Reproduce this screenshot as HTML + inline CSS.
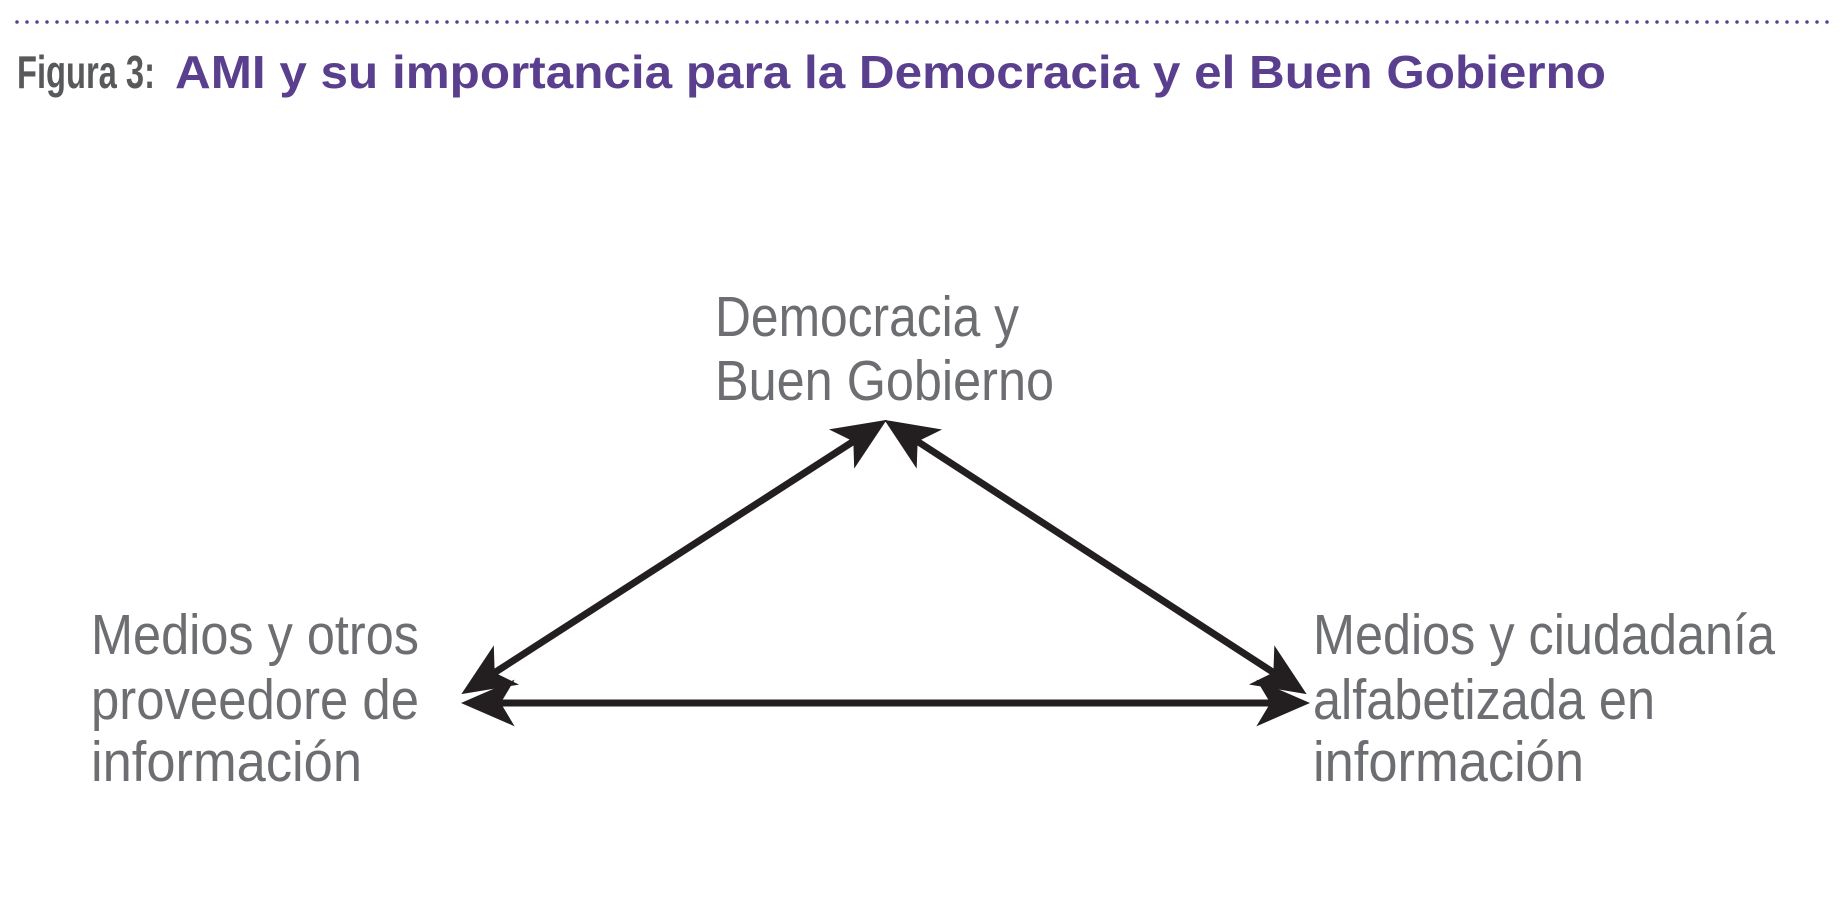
<!DOCTYPE html>
<html><head><meta charset="utf-8"><style>
html,body{margin:0;padding:0;background:#fff;}
svg{display:block;}
</style></head><body>
<svg width="1847" height="901" viewBox="0 0 1847 901" xmlns="http://www.w3.org/2000/svg">
<defs>
<marker id="ah" markerUnits="userSpaceOnUse" markerWidth="70" markerHeight="60" refX="0" refY="0" viewBox="-40 -25 60 50" orient="auto-start-reverse">
<path d="M12,0 L-34,-20 L-22,0 L-34,20 Z" fill="#231f20"/>
</marker>
</defs>
<line x1="17" y1="22" x2="1830" y2="22" stroke="#5b3f8f" stroke-width="3.5" stroke-linecap="round" stroke-dasharray="0 10"/>
<text x="17" y="88" font-family="Liberation Sans, sans-serif" font-weight="bold" font-size="46" fill="#58595b" textLength="138" lengthAdjust="spacingAndGlyphs">Figura 3:</text>
<text x="175" y="88" font-family="Liberation Sans, sans-serif" font-weight="bold" font-size="46" fill="#5b3f8f" textLength="1431" lengthAdjust="spacingAndGlyphs">AMI y su importancia para la Democracia y el Buen Gobierno</text>
<g font-family="Liberation Sans, sans-serif" font-size="57" fill="#6d6e71">
<text x="715" y="336" textLength="304" lengthAdjust="spacingAndGlyphs">Democracia y</text>
<text x="715" y="400" textLength="339" lengthAdjust="spacingAndGlyphs">Buen Gobierno</text>
<text x="91" y="654" textLength="328" lengthAdjust="spacingAndGlyphs">Medios y otros</text>
<text x="91" y="719" textLength="328" lengthAdjust="spacingAndGlyphs">proveedore de</text>
<text x="91" y="781" textLength="271" lengthAdjust="spacingAndGlyphs">información</text>
<text x="1313" y="654" textLength="462" lengthAdjust="spacingAndGlyphs">Medios y ciudadanía</text>
<text x="1313" y="719" textLength="342" lengthAdjust="spacingAndGlyphs">alfabetizada en</text>
<text x="1313" y="781" textLength="271" lengthAdjust="spacingAndGlyphs">información</text>
</g>
<g stroke="#231f20" stroke-width="7" fill="none">
<line x1="473.1" y1="686.5" x2="874.9" y2="427.5" marker-start="url(#ah)" marker-end="url(#ah)"/>
<line x1="896.1" y1="427.5" x2="1294.9" y2="686.5" marker-start="url(#ah)" marker-end="url(#ah)"/>
<line x1="475" y1="703" x2="1296" y2="703" marker-start="url(#ah)" marker-end="url(#ah)"/>
</g>
</svg>
</body></html>
